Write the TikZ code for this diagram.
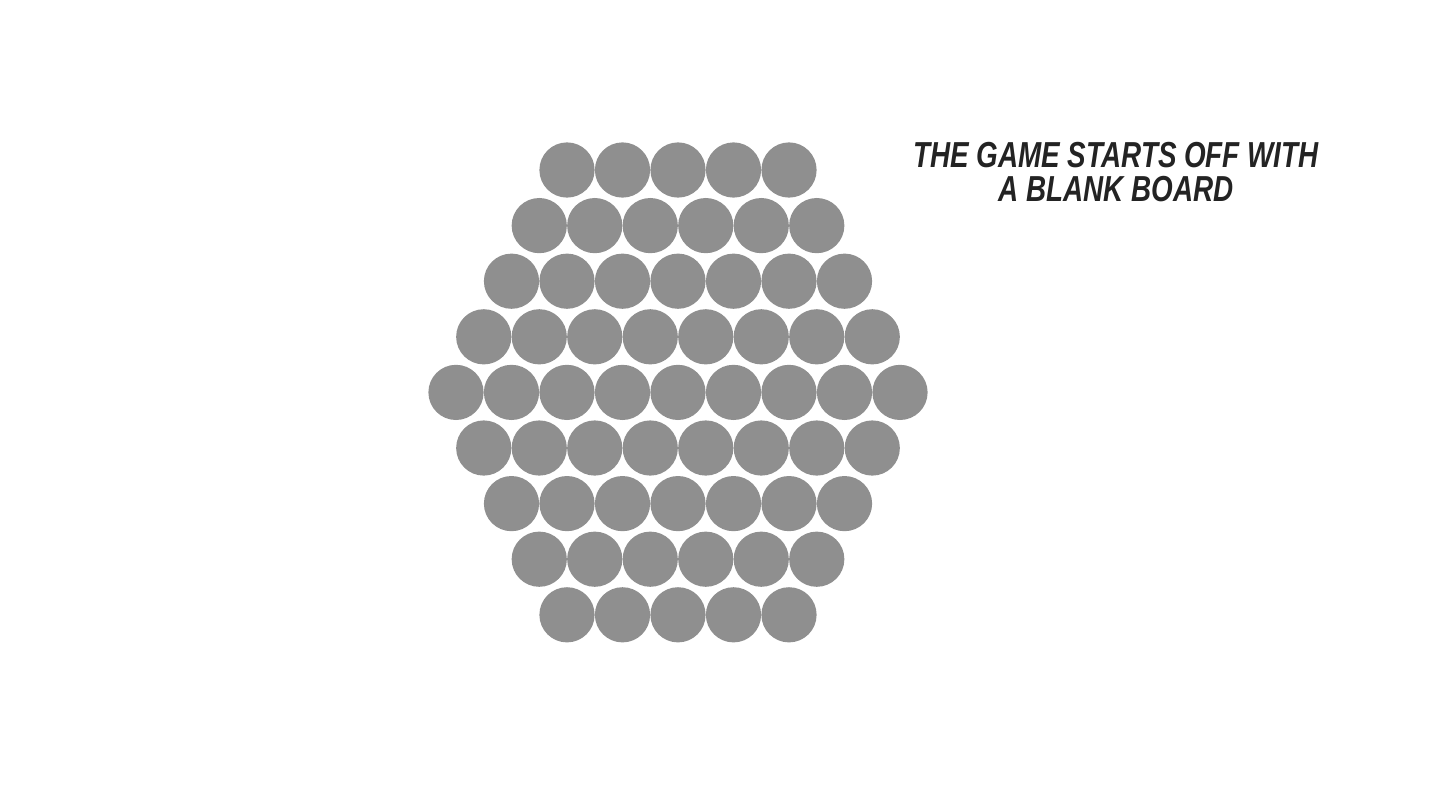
\documentclass[tikz,border=0pt]{standalone}
\usepackage{fontspec}
\setmainfont{Liberation Sans}
\usetikzlibrary{positioning}
\definecolor{boardgrey}{RGB}{143,143,143}
\definecolor{inkdark}{RGB}{35,35,35}

\begin{document}
\begin{tikzpicture}[x=0.025cm,y=-0.025cm,
  hole/.style={circle,fill=boardgrey,inner sep=0pt,minimum size=1.38cm},
  caption/.style={font=\fontsize{25.7}{24}\selectfont\bfseries\itshape,align=center,text=inkdark,xscale=0.77}]
\useasboundingbox (0,0) rectangle (1440,810);
% board
\foreach \r in {0,...,8}{
  \pgfmathtruncatemacro{\n}{9-abs(\r-4)}
  \foreach \k in {1,...,\n}
    \node[hole] (c-\r-\k) at ({678+(\k-(\n+1)/2)*55.5},{170+55.6*\r}) {};
}
% caption
\node[caption] (title) at (1116,172) {THE GAME STARTS OFF WITH\\A BLANK BOARD};
\end{tikzpicture}
\end{document}
